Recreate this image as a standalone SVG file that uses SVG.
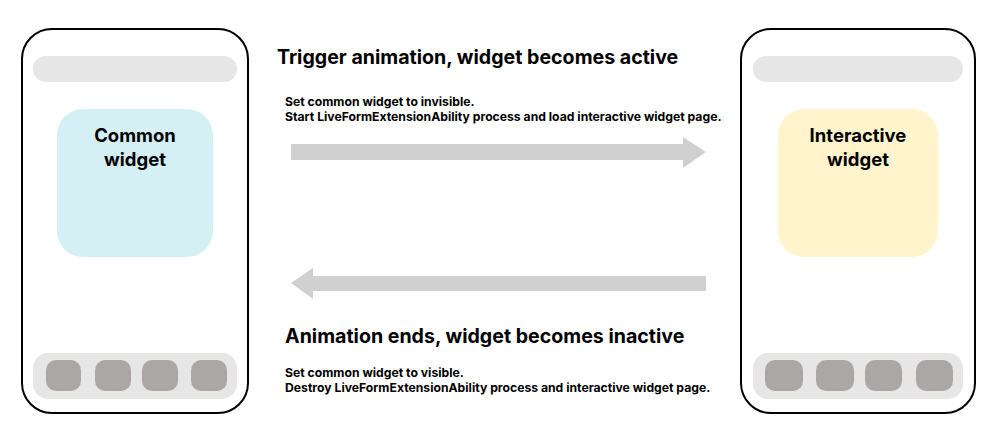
<svg xmlns="http://www.w3.org/2000/svg" width="1000" height="444" viewBox="0 0 1000 444">
<style>
.frame{fill:#fff;stroke:#000;stroke-width:2}
.bar{fill:#e6e6e6}
.icon{fill:#aba7a7}
.wt{font-family:Inter,"Noto Sans","Liberation Sans",sans-serif;font-weight:bold;font-size:18.5px;fill:#000;text-anchor:middle}
.title{font-family:Inter,"Noto Sans","Liberation Sans",sans-serif;font-weight:bold;font-size:19.6px;fill:#000}
.sub{font-family:Inter,"Noto Sans","Liberation Sans",sans-serif;font-weight:bold;font-size:12.2px;fill:#000}
.arrow{fill:#d0d0d0}
</style>
<rect width="1000" height="444" fill="#fff"/>
<g id="phone-left">
<rect class="frame" x="22" y="29" width="226" height="384" rx="30"/>
<rect class="bar" x="33" y="56" width="204" height="26" rx="13"/>
<rect class="bar" x="33" y="353" width="204" height="46" rx="15"/>
<rect class="icon" x="46" y="360" width="35" height="31" rx="10"/>
<rect class="icon" x="95" y="360" width="36" height="31" rx="10"/>
<rect class="icon" x="142" y="360" width="36" height="31" rx="10"/>
<rect class="icon" x="191" y="360" width="36" height="31" rx="10"/>
</g>
<g id="common-widget">
<rect x="57" y="109" width="156" height="148" rx="26" fill="#d5f0f4"/>
<text class="wt" x="135" y="142">Common</text>
<text class="wt" x="135" y="166">widget</text>
</g>
<g id="phone-right">
<rect class="frame" x="741" y="29" width="234" height="384" rx="30"/>
<rect class="bar" x="753" y="56" width="210" height="26" rx="13"/>
<rect class="bar" x="753" y="353" width="210" height="46" rx="15"/>
<rect class="icon" x="765" y="360" width="38" height="31" rx="10"/>
<rect class="icon" x="816" y="360" width="38" height="31" rx="10"/>
<rect class="icon" x="865" y="360" width="37" height="31" rx="10"/>
<rect class="icon" x="916" y="360" width="37" height="31" rx="10"/>
</g>
<g id="interactive-widget">
<rect x="778" y="109" width="160" height="148" rx="26" fill="#fff4cc"/>
<text class="wt" x="858" y="142">Interactive</text>
<text class="wt" x="858" y="166">widget</text>
</g>
<g id="connectors">
<path class="arrow" d="M291 144 H683 V137 L706 152 L683 168 V160 H291 Z"/>
<path class="arrow" d="M706 276 H313 V268 L291 283 L313 299 V291 H706 Z"/>
</g>
<g id="labels">
<text class="title" x="277" y="64">Trigger animation, widget becomes active</text>
<text class="sub" x="285" y="106">Set common widget to invisible.</text>
<text class="sub" x="285" y="121">Start LiveFormExtensionAbility process and load interactive widget page.</text>
<text class="title" x="285" y="343">Animation ends, widget becomes inactive</text>
<text class="sub" x="285" y="377">Set common widget to visible.</text>
<text class="sub" x="285" y="392">Destroy LiveFormExtensionAbility process and interactive widget page.</text>
</g>
</svg>
